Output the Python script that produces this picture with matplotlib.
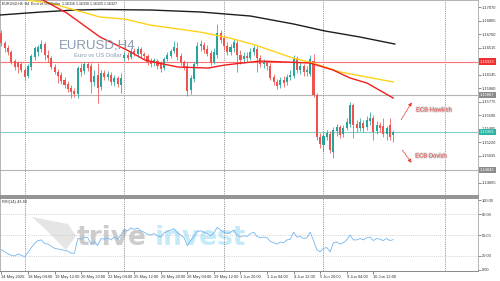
import matplotlib
matplotlib.use("Agg")
import matplotlib.pyplot as plt
import matplotlib.transforms as mtransforms
import matplotlib.patheffects as pe
from matplotlib.patches import FancyArrowPatch, Polygon
import numpy as np

plt.rcParams['font.family'] = ['Liberation Sans', 'DejaVu Sans']

# ---------------- data (EURUSD H4) ----------------
first_bar = -8  # bar index of first candle (18 May 04:00 = bar 0)
opens = [1.16715, 1.16578, 1.16510, 1.16455, 1.16332, 1.16305, 1.16291, 1.16209,
         1.16127, 1.16250, 1.16387, 1.16455, 1.16496, 1.16564, 1.16414, 1.16373,
         1.16250, 1.16182, 1.16141, 1.16072, 1.16018, 1.15963, 1.15922, 1.15881,
         1.16236, 1.16195, 1.16291, 1.16264, 1.16045, 1.16141, 1.15977, 1.16168,
         1.16113, 1.16141, 1.16045, 1.16100, 1.16004, 1.16373, 1.16414, 1.16387,
         1.16469, 1.16428, 1.16496, 1.16428, 1.16400, 1.16332, 1.16305, 1.16332,
         1.16291, 1.16236, 1.16359, 1.16400, 1.16469, 1.16510, 1.16400, 1.16318,
         1.16264, 1.15936, 1.16086, 1.16291, 1.16537, 1.16551, 1.16496, 1.16441,
         1.16318, 1.16414, 1.16715, 1.16646, 1.16537, 1.16455, 1.16510, 1.16578,
         1.16414, 1.16359, 1.16400, 1.16373, 1.16455, 1.16496, 1.16373, 1.16291,
         1.16318, 1.16264, 1.16113, 1.16045, 1.16004, 1.16072, 1.16045, 1.16113,
         1.16127, 1.16373, 1.16209, 1.16264, 1.16182, 1.16154, 1.16332, 1.15867,
         1.15293, 1.15184, 1.15293, 1.15334, 1.15088, 1.15375, 1.15430, 1.15334,
         1.15416, 1.15471, 1.15731, 1.15471, 1.15416, 1.15485, 1.15430, 1.15512,
         1.15553, 1.15375, 1.15457, 1.15444, 1.15334, 1.15457, 1.15321]
highs = [1.16756, 1.16605, 1.16551, 1.16482, 1.16359, 1.16332, 1.16318, 1.16236,
         1.16291, 1.16428, 1.16537, 1.16551, 1.16619, 1.16592, 1.16482, 1.16400,
         1.16291, 1.16223, 1.16182, 1.16113, 1.16059, 1.16004, 1.15963, 1.16264,
         1.16305, 1.16318, 1.16318, 1.16305, 1.16209, 1.16305, 1.16209, 1.16209,
         1.16195, 1.16182, 1.16141, 1.16127, 1.16168, 1.16455, 1.16455, 1.16510,
         1.16510, 1.16537, 1.16523, 1.16455, 1.16428, 1.16373, 1.16373, 1.16359,
         1.16332, 1.16387, 1.16455, 1.16496, 1.16605, 1.16592, 1.16441, 1.16346,
         1.16318, 1.16141, 1.16318, 1.16592, 1.16619, 1.16592, 1.16551, 1.16482,
         1.16510, 1.16838, 1.16756, 1.16687, 1.16592, 1.16564, 1.16633, 1.16619,
         1.16482, 1.16455, 1.16455, 1.16510, 1.16551, 1.16537, 1.16414, 1.16359,
         1.16346, 1.16305, 1.16154, 1.16086, 1.16113, 1.16127, 1.16154, 1.16209,
         1.16414, 1.16400, 1.16318, 1.16291, 1.16264, 1.16414, 1.16428, 1.15895,
         1.15348, 1.15348, 1.15389, 1.15375, 1.15430, 1.15471, 1.15457, 1.15457,
         1.15553, 1.15772, 1.15758, 1.15526, 1.15553, 1.15526, 1.15580, 1.15635,
         1.15594, 1.15512, 1.15498, 1.15553, 1.15444, 1.15553, 1.15389]
lows = [1.16537, 1.16455, 1.16414, 1.16291, 1.16209, 1.16168, 1.16182, 1.16072,
        1.16100, 1.16209, 1.16346, 1.16400, 1.16455, 1.16346, 1.16318, 1.16223,
        1.16154, 1.16031, 1.16018, 1.15963, 1.15908, 1.15826, 1.15840, 1.15826,
        1.16127, 1.16154, 1.16195, 1.15895, 1.15990, 1.15758, 1.15936, 1.16072,
        1.16072, 1.16004, 1.15990, 1.15977, 1.15895, 1.16332, 1.16346, 1.16359,
        1.16400, 1.16387, 1.16373, 1.16359, 1.16277, 1.16250, 1.16264, 1.16223,
        1.16182, 1.16209, 1.16332, 1.16373, 1.16441, 1.16346, 1.16277, 1.16209,
        1.15854, 1.15881, 1.16045, 1.16264, 1.16469, 1.16441, 1.16400, 1.16277,
        1.16291, 1.16373, 1.16578, 1.16482, 1.16414, 1.16414, 1.16455, 1.16182,
        1.16291, 1.16305, 1.16318, 1.16346, 1.16414, 1.16182, 1.16250, 1.16236,
        1.16209, 1.16072, 1.16004, 1.15949, 1.15963, 1.15977, 1.16004, 1.16072,
        1.16100, 1.16168, 1.16154, 1.16127, 1.16127, 1.16127, 1.15840, 1.15252,
        1.15143, 1.15102, 1.15252, 1.15075, 1.15006, 1.15307, 1.15280, 1.15293,
        1.15389, 1.15430, 1.15280, 1.15362, 1.15375, 1.15362, 1.15389, 1.15457,
        1.15252, 1.15334, 1.15362, 1.15293, 1.15252, 1.15252, 1.15225]
closes = [1.16578, 1.16510, 1.16455, 1.16318, 1.16250, 1.16250, 1.16209, 1.16113,
          1.16264, 1.16400, 1.16510, 1.16523, 1.16564, 1.16414, 1.16373, 1.16250,
          1.16182, 1.16127, 1.16059, 1.16004, 1.15949, 1.15908, 1.15881, 1.16236,
          1.16182, 1.16291, 1.16236, 1.16045, 1.16127, 1.15963, 1.16168, 1.16113,
          1.16154, 1.16045, 1.16100, 1.16018, 1.16100, 1.16414, 1.16373, 1.16469,
          1.16441, 1.16496, 1.16428, 1.16400, 1.16318, 1.16291, 1.16346, 1.16264,
          1.16223, 1.16359, 1.16414, 1.16469, 1.16523, 1.16387, 1.16318, 1.16236,
          1.15922, 1.16100, 1.16291, 1.16537, 1.16564, 1.16482, 1.16428, 1.16318,
          1.16455, 1.16715, 1.16619, 1.16537, 1.16455, 1.16523, 1.16592, 1.16414,
          1.16346, 1.16400, 1.16373, 1.16455, 1.16510, 1.16373, 1.16291, 1.16318,
          1.16264, 1.16100, 1.16045, 1.15990, 1.16072, 1.16031, 1.16113, 1.16141,
          1.16373, 1.16209, 1.16264, 1.16182, 1.16209, 1.16359, 1.15867, 1.15293,
          1.15198, 1.15307, 1.15348, 1.15116, 1.15389, 1.15430, 1.15321, 1.15416,
          1.15498, 1.15731, 1.15457, 1.15416, 1.15498, 1.15416, 1.15526, 1.15553,
          1.15362, 1.15457, 1.15416, 1.15334, 1.15416, 1.15293, 1.15362]

rsi = [29, 26, 23, 21, 20, 23, 21, 19, 25, 32, 38, 42, 43, 38, 37, 34,
       31, 30, 29, 28, 27, 24, 24, 45, 44, 47, 46, 37, 41, 35, 45, 44,
       46, 43, 47, 44, 50, 58, 56, 60, 58, 60, 56, 54, 51, 50, 52, 49,
       47, 53, 55, 57, 59, 53, 50, 46, 35, 42, 48, 55, 56, 54, 52, 49,
       53, 61, 57, 54, 52, 54, 57, 50, 47, 49, 48, 52, 54, 48, 46, 47,
       46, 41, 39, 37, 40, 39, 43, 44, 54, 47, 48, 45, 46, 54, 42, 29,
       26, 31, 32, 26, 39, 40, 37, 39, 43, 50, 43, 43, 45, 43, 46, 47,
       42, 45, 44, 42, 45, 42, 43.4]

# moving averages (bar index, value)
ma_black_bar = [-8.4, 4, 14, 22, 37, 52, 67, 80, 89.5, 100, 110.5]
ma_black_val = [1.16961, 1.17002, 1.17029, 1.17036, 1.17029, 1.17002, 1.16947,
                1.16838, 1.16742, 1.16660, 1.16564]
ma_yellow_bar = [-8.4, 0.6, 6.6, 21.7, 29.2, 36.7, 51.8, 60.8, 68.4, 79.8, 85.8, 94, 102.1, 110]
ma_yellow_val = [1.17275, 1.17159, 1.17125, 1.16933, 1.16906, 1.16824, 1.16728,
                 1.16646, 1.16551, 1.16373, 1.16305, 1.16182, 1.16113, 1.16045]
ma_red_bar = [-8.4, 4.5, 11.7, 21.7, 29.8, 35.2, 39.2, 45.2, 54.2, 59.3, 69.9, 84.9, 91.9, 97, 102.1, 110]
ma_red_val = [1.17330, 1.17166, 1.16988, 1.16660, 1.16482, 1.16346, 1.16305, 1.16250,
              1.16236, 1.16277, 1.16332, 1.16305, 1.16209, 1.16100, 1.16031, 1.15826]

# horizontal levels
levels = [1.16323, 1.15867, 1.15362, 1.14843]
level_labels = ["1.16323", "1.15867", "1.15363", "1.14843"]
level_colors = ["#FF7070", "#B5B5B5", "#80D0C6", "#B5B5B5"]
level_box = ["#F03030", "#8C8C8C", "#2BB5A5", "#8C8C8C"]

price_ticks = [1.17070, 1.16885, 1.16700, 1.16515, 1.16145, 1.15960, 1.15775,
               1.15590, 1.15405, 1.15220, 1.15035, 1.14665]
rsi_ticks = [0, 20, 50, 80, 100]
rsi_levels = [20, 50, 80]

time_labels = ["14 May 2026", "18 May 04:00", "19 May 12:00", "20 May 20:00",
               "22 May 04:00", "25 May 12:00", "26 May 20:00", "28 May 04:00",
               "29 May 12:00", "1 Jun 20:00", "3 Jun 04:00", "4 Jun 12:00",
               "5 Jun 20:00", "9 Jun 04:00", "10 Jun 12:00"]
label_bars = [-8, 0, 8, 16, 24, 32, 40, 48, 56, 64, 72, 80, 88, 96, 104]
separator_bars = [-1, 29, 59, 89, 125.6]

# ---------------- figure ----------------
W, H = 500, 281
fig = plt.figure(figsize=(5, 2.81), dpi=100)
fig.patch.set_facecolor("white")


def fx(px):
    return px / W


def fy(py):
    return 1 - py / H


ax = fig.add_axes([0, fy(196), fx(478), 196 / H])
ax2 = fig.add_axes([0, fy(271), fx(478), (271 - 198) / H])

xmin, xmax = -8.43, 135.54
for a in (ax, ax2):
    a.set_xlim(xmin, xmax)
    a.set_facecolor("white")
    for s in a.spines.values():
        s.set_color("#A8A8A8")
        s.set_linewidth(0.6)

ax.set_ylim(1.14487, 1.17166)
ax2.set_ylim(-1.43, 102.86)
ax.spines["bottom"].set_color("#8A8A8A")
ax.spines["bottom"].set_linewidth(1.3)
ax2.spines["top"].set_color("#8A8A8A")
ax2.spines["top"].set_linewidth(1.3)
ax2.spines["bottom"].set_color("#777777")

# separators
for b in separator_bars:
    for a in (ax, ax2):
        a.axvline(b, color="#6E6E6E", lw=0.5, ls=(0, (1.6, 1.6)), zorder=1)

# horizontal levels
for lv, c in zip(levels, level_colors):
    ax.axhline(lv, color=c, lw=0.8, zorder=1.5)

# candles
o = np.array(opens)
h = np.array(highs)
l = np.array(lows)
c = np.array(closes)
x = np.arange(len(o)) + first_bar
bull = c >= o
cols = np.where(bull, "#26A69A", "#EF5350")
ax.vlines(x, l, h, colors=cols, lw=0.55, zorder=2)
body = np.maximum(np.abs(c - o), 0.00003)
ax.bar(x, body, bottom=np.minimum(o, c), width=0.62, color=cols, linewidth=0, zorder=3)

# moving averages
ax.plot(ma_black_bar, ma_black_val, color="#1E1E1E", lw=1.0, zorder=4)
ax.plot(ma_yellow_bar, ma_yellow_val, color="#FFD21A", lw=1.0, zorder=4)
ax.plot(ma_red_bar, ma_red_val, color="#F01E1E", lw=1.0, zorder=4)

# right price axis
ax.yaxis.tick_right()
ax.set_yticks(price_ticks)
ax.set_yticklabels([f"{t:.5f}" for t in price_ticks])
ax.tick_params(axis="y", labelsize=2.9, length=1.8, width=0.4, pad=1.2,
               colors="#333333")
ax.tick_params(axis="x", bottom=False, labelbottom=False)

trans = mtransforms.blended_transform_factory(ax.transAxes, ax.transData)
for lv, lab, bc in zip(levels, level_labels, level_box):
    ax.text(1.004, lv, lab, transform=trans, fontsize=2.9, color="white",
            va="center", ha="left", clip_on=False, zorder=6,
            bbox=dict(boxstyle="square,pad=0.35", facecolor=bc, edgecolor="none"))

# RSI panel
ax2.plot(x, rsi, color="#74B6F0", lw=0.6, zorder=3)
for lv in rsi_levels:
    ax2.axhline(lv, color="#C8C8C8", lw=0.5, ls=(0, (1.5, 1.5)), zorder=1)
ax2.yaxis.tick_right()
ax2.set_yticks(rsi_ticks)
ax2.set_yticklabels([f"{t:.2f}" for t in rsi_ticks])
ax2.tick_params(axis="y", labelsize=2.9, length=1.8, width=0.4, pad=1.2,
                colors="#333333")
ax2.set_xticks(label_bars)
ax2.set_xticklabels(time_labels, ha="left")
ax2.tick_params(axis="x", labelsize=2.9, length=1.8, width=0.4, pad=1.0,
                colors="#333333")

# texts
fig.text(fx(2), fy(3.5), "EURUSD,H4  H4  Euro vs US Dollar  1.16316 1.16330 1.16325 1.16327",
         fontsize=2.6, color="#222222", va="center", ha="left", zorder=10)
fig.text(fx(97), fy(45), "EURUSD,H4", fontsize=9.5, color="#8A9AB0",
         va="center", ha="center", zorder=10)
fig.text(fx(98), fy(55.5), "Euro vs US Dollar", fontsize=4.3, color="#8A9AB0",
         va="center", ha="center", zorder=10)
fig.text(fx(2), fy(202), "RSI(14) 43.40", fontsize=2.8, color="#222222",
         va="center", ha="left", zorder=10)

# watermark
wing = Polygon([[fx(32), fy(217)], [fx(68), fy(224)], [fx(76), fy(236)],
                [fx(66), fy(250)], [fx(56), fy(240)], [fx(44), fy(228)]],
               closed=True, transform=fig.transFigure, facecolor="#D0D0D0",
               edgecolor="none", alpha=0.55, zorder=0)
ax2.add_patch(wing)
ax2.text(fx(77), fy(238), "trive", transform=fig.transFigure, fontsize=19,
         fontweight="bold", family="DejaVu Sans", color="#8E8E8E", alpha=0.45,
         va="center", ha="left", zorder=0)
ax2.text(fx(155), fy(238), "invest", transform=fig.transFigure, fontsize=19,
         fontweight="bold", family="DejaVu Sans", color="#7FD3F5", alpha=0.45,
         va="center", ha="left", zorder=0)

# ECB annotations
halo = [pe.withStroke(linewidth=1.4, foreground="#DADADA")]
ax.text(122.3, 1.15663, "ECB Hawkish", fontsize=4.2, color="#E8352F",
        ha="center", va="center", path_effects=halo, zorder=7)
ax.text(121.4, 1.15034, "ECB Dovish", fontsize=4.2, color="#E8352F",
        ha="center", va="center", path_effects=halo, zorder=7)
for (x0, y0), (x1, y1) in [((112, 1.15499), (116, 1.15799)),
                           ((112.3, 1.15143), (116, 1.14911))]:
    arr = FancyArrowPatch((x0, y0), (x1, y1), arrowstyle="-|>", mutation_scale=5,
                          color="#E8352F", lw=0.6, linestyle=(0, (1.5, 1.2)), zorder=7)
    ax.add_patch(arr)

fig.savefig("out.png", dpi=100)
